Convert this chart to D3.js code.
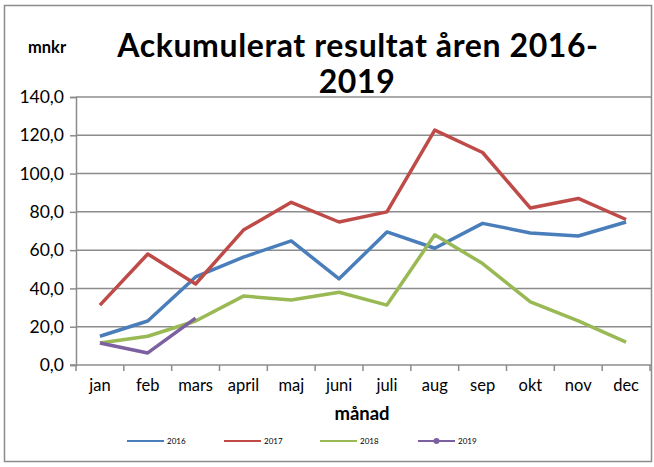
<!DOCTYPE html>
<html>
<head>
<meta charset="utf-8">
<script src="https://cdn.jsdelivr.net/npm/d3@7"></script>
<style>
  body { margin: 0; background: #fff; }
  svg { display: block; font-family: Lato, "Open Sans", sans-serif; }
</style>
</head>
<body>
<svg></svg>
<script>
let months = ["jan", "feb", "mars", "april", "maj", "juni", "juli", "aug", "sep", "okt", "nov", "dec"]
let years = ["2016", "2017", "2018", "2019"]
let v2016 = [15, 23, 46, 56.4, 64.8, 45, 69.5, 61, 74, 69, 67.4, 74.7]
let v2017 = [31.3, 58, 42.3, 70.5, 85, 74.7, 80, 122.7, 111, 82, 87, 76]
let v2018 = [11.5, 15, 23, 36, 34, 38, 31.3, 68, 53, 33, 23, 12]
let v2019 = [11.5, 6.3, 24.5]
let yTicks = [0, 20, 40, 60, 80, 100, 120, 140]
let colors = ["#4a7ebb", "#be4b48", "#98b954", "#7d60a0"]

let series = [v2016, v2017, v2018, v2019].map((vals, i) => ({
  name: years[i],
  color: colors[i],
  values: vals.map((v, j) => ({ month: months[j], value: v }))
}))

let margin = { top: 97, right: 2, bottom: 102, left: 76 }
let width = 654 - margin.left - margin.right
let height = 467 - margin.top - margin.bottom

let svg = d3.select('svg').attr('width', 654).attr('height', 467)

// outer frame
svg.append('rect')
  .attr('x', 4.5).attr('y', 5.5).attr('width', 647).attr('height', 456)
  .attr('fill', 'none').attr('stroke', '#8c8c8c').attr('stroke-width', 1.5)

let chart = svg.append('g')
  .attr('transform', 'translate(' + margin.left + ',' + margin.top + ')')

let x = d3.scaleBand().domain(months).range([0, width - 2])
let y = d3.scaleLinear().domain([0, 140]).range([height, 0])

// gridlines
chart.append('g').selectAll('line')
  .data(yTicks.filter(d => d > 0))
  .enter().append('line')
  .attr('x1', 0).attr('x2', width)
  .attr('y1', d => y(d)).attr('y2', d => y(d))
  .attr('stroke', '#8c8c8c').attr('stroke-width', 1.5)

let yAxis = chart.append('g').attr('class', 'axis y')
  .call(d3.axisLeft(y).tickValues(yTicks).tickSize(6).tickPadding(6)
    .tickFormat(d => d3.format('.1f')(d).replace('.', ',')))
yAxis.select('.domain').attr('stroke', '#8c8c8c').attr('stroke-width', 1.5)
yAxis.selectAll('.tick line').attr('stroke', '#8c8c8c').attr('stroke-width', 1.5)
yAxis.selectAll('text').attr('font-size', 17.5).attr('fill', '#000')
  .attr('font-family', 'Lato, sans-serif')

let xAxis = chart.append('g').attr('class', 'axis x')
  .attr('transform', 'translate(0,' + height + ')')
  .call(d3.axisBottom(x).tickSize(0).tickPadding(14))
xAxis.select('.domain').attr('stroke', '#8c8c8c').attr('stroke-width', 1.5)
  .attr('d', 'M-6,0H' + width)
xAxis.selectAll('text').attr('font-size', 16.5).attr('fill', '#000')
  .attr('font-family', 'Lato, sans-serif')

// category boundary ticks
xAxis.append('g').selectAll('line')
  .data(months.concat(['end']))
  .enter().append('line')
  .attr('x1', (d, i) => i * x.step()).attr('x2', (d, i) => i * x.step())
  .attr('y1', 0).attr('y2', 6)
  .attr('stroke', '#8c8c8c').attr('stroke-width', 1.5)

let line = d3.line()
  .x(d => x(d.month) + x.bandwidth() / 2)
  .y(d => y(d.value))

chart.selectAll('.series')
  .data(series)
  .enter().append('path')
  .attr('class', 'series')
  .attr('d', d => line(d.values))
  .attr('fill', 'none')
  .attr('stroke', d => d.color)
  .attr('stroke-width', 3.5)
  .attr('stroke-linejoin', 'round')

// title and labels
svg.append('text')
  .attr('x', 358).attr('y', 57)
  .attr('text-anchor', 'middle')
  .attr('font-size', 32).attr('font-weight', 'bold')
  .attr('letter-spacing', 0.6)
  .text('Ackumulerat resultat åren 2016-')
svg.append('text')
  .attr('x', 357).attr('y', 93)
  .attr('text-anchor', 'middle')
  .attr('font-size', 32).attr('font-weight', 'bold')
  .attr('letter-spacing', 0.6)
  .text('2019')
svg.append('text')
  .attr('x', 28).attr('y', 53)
  .attr('font-size', 16.5).attr('font-weight', 'bold')
  .text('mnkr')
svg.append('text')
  .attr('x', 362).attr('y', 420)
  .attr('text-anchor', 'middle')
  .attr('font-size', 18.5).attr('font-weight', 'bold')
  .text('månad')

// legend
let legend = svg.append('g').selectAll('g')
  .data(series)
  .enter().append('g')
  .attr('transform', (d, i) => 'translate(' + [127, 224, 320, 418][i] + ',441)')
legend.append('line')
  .attr('x1', 0).attr('x2', 37)
  .attr('stroke', d => d.color).attr('stroke-width', 2)
legend.filter(d => d.name === '2019').append('circle')
  .attr('cx', 18.5).attr('r', 3).attr('fill', d => d.color)
legend.append('text')
  .attr('x', 40).attr('y', 3)
  .attr('font-size', 8)
  .text(d => d.name)
</script>
</body>
</html>
